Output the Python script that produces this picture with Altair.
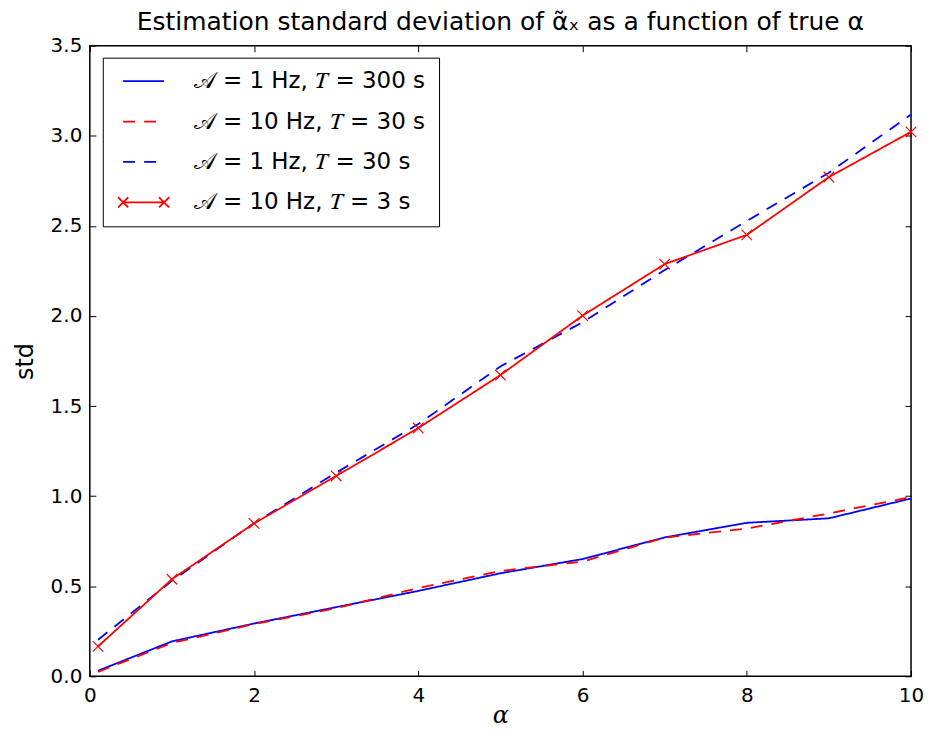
import altair as alt
import pandas as pd

alpha = [0.1, 1, 2, 3, 4, 5, 6, 7, 8, 9, 10]
std_A1_T300 = [0.031, 0.194, 0.293, 0.384, 0.474, 0.572, 0.651, 0.771, 0.852, 0.877, 0.987]
std_A10_T30 = [0.025, 0.185, 0.290, 0.378, 0.490, 0.585, 0.637, 0.770, 0.820, 0.904, 0.995]
std_A1_T30 = [0.203, 0.530, 0.850, 1.130, 1.400, 1.720, 1.965, 2.255, 2.527, 2.795, 3.118]
std_A10_T3 = [0.166, 0.539, 0.849, 1.112, 1.378, 1.672, 2.002, 2.288, 2.450, 2.771, 3.022]

series_names = [
    "𝒜 = 1 Hz, 𝑇 = 300 s",
    "𝒜 = 10 Hz, 𝑇 = 30 s",
    "𝒜 = 1 Hz, 𝑇 = 30 s",
    "𝒜 = 10 Hz, 𝑇 = 3 s",
]
series_values = [std_A1_T300, std_A10_T30, std_A1_T30, std_A10_T3]
series_colors = ["#0000ff", "#ff0000", "#0000ff", "#ff0000"]
series_dashes = [[1, 0], [12, 9], [12, 9], [1, 0]]
line_path = "M-0.3,0H3.7"
cross_line_path = "M-0.3,0H3.7M-0.8,-0.5L0.2,0.5M-0.8,0.5L0.2,-0.5M3.2,-0.5L4.2,0.5M3.2,0.5L4.2,-0.5"
series_shapes = [line_path, line_path, line_path, cross_line_path]

rows = []
for name, vals in zip(series_names, series_values):
    for a, v in zip(alpha, vals):
        rows.append({"alpha": a, "std": v, "series": name})
df = pd.DataFrame(rows)

x_ticks = [0, 2, 4, 6, 8, 10]
y_ticks = [0, 0.5, 1.0, 1.5, 2.0, 2.5, 3.0, 3.5]

xscale = alt.Scale(domain=[0, 10], nice=False, zero=False)
yscale = alt.Scale(domain=[0, 3.5], nice=False, zero=False)
color_scale = alt.Scale(domain=series_names, range=series_colors)
dash_scale = alt.Scale(domain=series_names, range=series_dashes)
shape_scale = alt.Scale(domain=series_names, range=series_shapes)

axis_common = dict(grid=False, domain=False, tickSize=6, offset=-6, tickColor="black",
                   tickWidth=1, labelColor="black", labelFontSize=20, labelFont="DejaVu Sans",
                   labelFlush=False, labelOverlap=False)

x_bottom = alt.Axis(orient="bottom", values=x_ticks, format="d", labelPadding=9,
                    title="α", titleFont="DejaVu Serif", titleFontStyle="italic",
                    titleFontSize=24, titleFontWeight="normal", titleColor="black",
                    titleBaseline="alphabetic", titleY=52, **axis_common)
y_left = alt.Axis(orient="left", values=y_ticks, format=".1f", labelPadding=8,
                  title="std", titleFont="DejaVu Sans", titleFontSize=24,
                  titleFontWeight="normal", titleColor="black", titlePadding=13,
                  **axis_common)
x_top = alt.Axis(orient="top", values=x_ticks, labels=False, title=None,
                 grid=False, domain=False, tickSize=6, offset=-6, tickColor="black", tickWidth=1)
y_right = alt.Axis(orient="right", values=y_ticks, labels=False, title=None,
                   grid=False, domain=False, tickSize=6, offset=-6, tickColor="black", tickWidth=1)

base = alt.Chart(df)

layers = []
for i, (name, col, dash) in enumerate(zip(series_names, series_colors, series_dashes)):
    enc = dict(
        x=alt.X("alpha:Q", scale=xscale, axis=x_bottom if i == 0 else None),
        y=alt.Y("std:Q", scale=yscale, axis=y_left if i == 0 else None),
        color=alt.value(col),
        strokeDash=alt.value(dash),
    )
    layers.append(base.transform_filter(alt.datum.series == name)
                  .mark_line(strokeWidth=1.8).encode(**enc))

markers = base.transform_filter(
    alt.datum.series == series_names[3]
).mark_point(filled=False, strokeWidth=1.2, size=112, opacity=1).encode(
    x=alt.X("alpha:Q", scale=xscale, axis=x_top),
    y=alt.Y("std:Q", scale=yscale, axis=y_right),
    shape=alt.value("M-1,-1L1,1M-1,1L1,-1"),
    color=alt.value("#ff0000"),
)
layers.append(markers)

legend_layer = base.transform_filter("false").mark_point(
    filled=False, strokeWidth=1.8, opacity=1
).encode(
    x=alt.X("alpha:Q", scale=xscale, axis=None),
    y=alt.Y("std:Q", scale=yscale, axis=None),
    color=alt.Color("series:N", scale=color_scale, legend=alt.Legend(
        title=None, orient="none", legendX=13, legendY=12,
        strokeColor="black", fillColor="white", padding=12, rowPadding=16.5,
        labelFontSize=23, labelFont="DejaVu Sans", labelColor="black",
        labelLimit=500, symbolSize=420, symbolStrokeWidth=1.8, labelOffset=56,
        cornerRadius=0, symbolOpacity=1)),
    strokeDash=alt.StrokeDash("series:N", scale=dash_scale),
    shape=alt.Shape("series:N", scale=shape_scale),
)
layers.append(legend_layer)

chart = alt.layer(*layers).resolve_axis(
    x="independent", y="independent"
).properties(
    width=823, height=632,
    title=alt.TitleParams("Estimation standard deviation of α̃ₓ as a function of true α",
                          fontSize=25, font="DejaVu Sans", fontWeight="normal",
                          color="black", anchor="middle", offset=1),
    autosize=alt.AutoSizeParams(type="none"),
    padding={"left": 82, "top": 37, "right": 12, "bottom": 53},
).configure(
    background="white",
    view=alt.ViewConfig(stroke="black", strokeWidth=1.5),
)

chart.save("out.html", embed_options={"renderer": "svg", "actions": False})
